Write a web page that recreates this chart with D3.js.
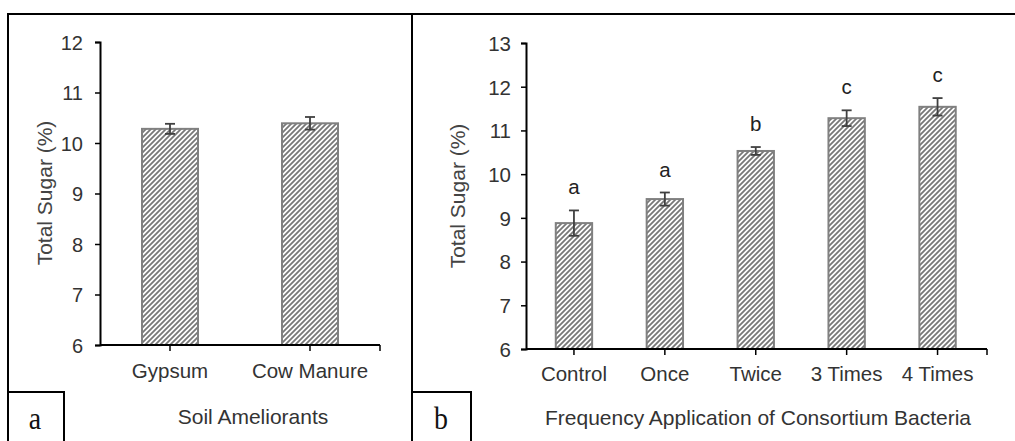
<!DOCTYPE html>
<html>
<head>
<meta charset="utf-8">
<script src="https://cdn.jsdelivr.net/npm/d3@7"></script>
<style>
  html, body { margin: 0; padding: 0; background: #fff; }
  svg { display: block; }
  text { font-family: "Liberation Sans", Arial, sans-serif; }
</style>
</head>
<body>
<svg id="chart" width="1015" height="441"></svg>
<script>
// Panel a: soil ameliorants
const ameliorants = ["Gypsum", "Cow Manure"];
const ameliorantMeans = [10.28, 10.39];
const ameliorantErrors = [0.10, 0.125];
const ameliorantTicks = [6, 7, 8, 9, 10, 11, 12];

// Panel b: frequency of consortium bacteria application
const frequencies = ["Control", "Once", "Twice", "3 Times", "4 Times"];
const frequencyMeans = [8.88, 9.43, 10.53, 11.28, 11.54];
const frequencyErrors = [0.29, 0.15, 0.09, 0.18, 0.20];
const frequencyLetters = ["a", "a", "b", "c", "c"];
const frequencyTicks = [6, 7, 8, 9, 10, 11, 12, 13];

const svg = d3.select("#chart");

// Upward diagonal hatch used for every bar
const defs = svg.append("defs");
const pat = defs.append("pattern")
  .attr("id", "hatch")
  .attr("patternUnits", "userSpaceOnUse")
  .attr("width", 5).attr("height", 5);
pat.append("rect").attr("width", 5).attr("height", 5).attr("fill", "#fff");
pat.append("path")
  .attr("d", "M-1,1 L1,-1 M0,5 L5,0 M4,6 L6,4")
  .attr("stroke", "#777")
  .attr("stroke-width", 1.8);

// Panel frames and corner label boxes
svg.append("path")
  .attr("d", "M8,441 V14 H1015 M412,14 V441 M8,392 H64 V441 M412,392 H471 V441")
  .attr("fill", "none").attr("stroke", "#000").attr("stroke-width", 2);

function panelTag(txt, cx) {
  svg.append("text")
    .attr("transform", `translate(${cx},429) scale(0.9,1)`)
    .attr("text-anchor", "middle")
    .style("font-family", "'Liberation Serif', 'Times New Roman', serif")
    .style("font-size", "31px").attr("fill", "#111").text(txt);
}
panelTag("a", 35);
panelTag("b", 441);

function panel(opts) {
  const g = svg.append("g");
  const x = d3.scaleBand().domain(opts.categories)
    .range([opts.bandX0, opts.bandX1]).paddingInner(0.6).paddingOuter(0.3);
  const y = d3.scaleLinear().domain(opts.domain).range([opts.yBottom, opts.yTop]);

  // y axis
  const ya = g.append("g").attr("transform", `translate(${opts.x0},0)`)
    .call(d3.axisLeft(y).tickValues(opts.ticks).tickSize(5).tickPadding(opts.tickPad)
      .tickFormat(d3.format("d")));
  ya.select(".domain").attr("stroke", "#000").attr("stroke-width", 2);
  ya.selectAll(".tick line").attr("stroke", "#000").attr("stroke-width", 1.5);
  ya.selectAll(".tick text").attr("fill", "#333")
    .style("font-size", opts.tickFont + "px").attr("dy", "0.36em");

  // bars
  g.selectAll("rect.bar").data(opts.means).join("rect")
    .attr("class", "bar")
    .attr("x", (d, i) => x(opts.categories[i]))
    .attr("width", x.bandwidth())
    .attr("y", d => y(d))
    .attr("height", d => y(opts.domain[0]) - y(d))
    .attr("fill", "url(#hatch)")
    .attr("stroke", "#808080").attr("stroke-width", 2);

  // x axis with ticks at category centres and at the right end
  g.append("line").attr("x1", opts.x0).attr("x2", opts.x1)
    .attr("y1", opts.yBottom).attr("y2", opts.yBottom)
    .attr("stroke", "#000").attr("stroke-width", 2);
  const tickXs = opts.categories.map(c => x(c) + x.bandwidth() / 2).concat([opts.x1]);
  g.selectAll("line.xt").data(tickXs).join("line").attr("class", "xt")
    .attr("x1", d => d).attr("x2", d => d)
    .attr("y1", opts.yBottom).attr("y2", opts.yBottom + 6)
    .attr("stroke", "#000").attr("stroke-width", 1.5);
  g.selectAll("text.xl").data(opts.categories).join("text").attr("class", "xl")
    .attr("x", d => x(d) + x.bandwidth() / 2)
    .attr("y", opts.catY)
    .attr("text-anchor", "middle").attr("fill", "#333")
    .style("font-size", opts.catFont + "px")
    .text(d => d);

  // error bars
  const cx = (i) => x(opts.categories[i]) + x.bandwidth() / 2;
  const eg = g.selectAll("g.err").data(opts.means).join("g").attr("class", "err")
    .attr("stroke", "#404040").attr("stroke-width", 1.8);
  eg.append("line")
    .attr("x1", (d, i) => cx(i)).attr("x2", (d, i) => cx(i))
    .attr("y1", (d, i) => y(d - opts.errors[i])).attr("y2", (d, i) => y(d + opts.errors[i]));
  eg.append("line")
    .attr("x1", (d, i) => cx(i) - 5).attr("x2", (d, i) => cx(i) + 5)
    .attr("y1", (d, i) => y(d + opts.errors[i])).attr("y2", (d, i) => y(d + opts.errors[i]));
  eg.append("line")
    .attr("x1", (d, i) => cx(i) - 5).attr("x2", (d, i) => cx(i) + 5)
    .attr("y1", (d, i) => y(d - opts.errors[i])).attr("y2", (d, i) => y(d - opts.errors[i]));

  // significance letters
  if (opts.letters) {
    g.selectAll("text.sig").data(opts.letters).join("text").attr("class", "sig")
      .attr("x", (d, i) => cx(i))
      .attr("y", (d, i) => y(opts.means[i] + opts.errors[i]) - 16)
      .attr("text-anchor", "middle").attr("fill", "#222")
      .style("font-size", "20.5px").text(d => d);
  }

  // axis titles
  g.append("text")
    .attr("transform", `translate(${opts.yTitleX},${opts.yTitleY}) rotate(-90)`)
    .attr("text-anchor", "middle").attr("dy", "0.35em")
    .attr("fill", "#444").style("font-size", opts.yTitleFont + "px")
    .text("Total Sugar (%)");
  g.append("text")
    .attr("x", opts.xTitleX).attr("y", opts.xTitleY)
    .attr("text-anchor", "middle").attr("fill", "#333")
    .style("font-size", opts.xTitleFont + "px")
    .text(opts.xTitle);
}

panel({
  categories: ameliorants, means: ameliorantMeans, errors: ameliorantErrors,
  ticks: ameliorantTicks, domain: [6, 12],
  x0: 100, x1: 380, bandX0: 100, bandX1: 380, yBottom: 345, yTop: 42,
  tickPad: 12, tickFont: 20, catFont: 20.5, catY: 378,
  yTitleX: 45, yTitleY: 193, yTitleFont: 21,
  xTitle: "Soil Ameliorants", xTitleX: 253, xTitleY: 424, xTitleFont: 21
});

panel({
  categories: frequencies, means: frequencyMeans, errors: frequencyErrors,
  ticks: frequencyTicks, domain: [6, 13], letters: frequencyLetters,
  x0: 526, x1: 987, bandX0: 528.5, bandX1: 983, yBottom: 349, yTop: 43,
  tickPad: 10, tickFont: 20.5, catFont: 20.5, catY: 381,
  yTitleX: 458, yTitleY: 196, yTitleFont: 21,
  xTitle: "Frequency Application of Consortium Bacteria", xTitleX: 758, xTitleY: 425, xTitleFont: 21
});
</script>
</body>
</html>
